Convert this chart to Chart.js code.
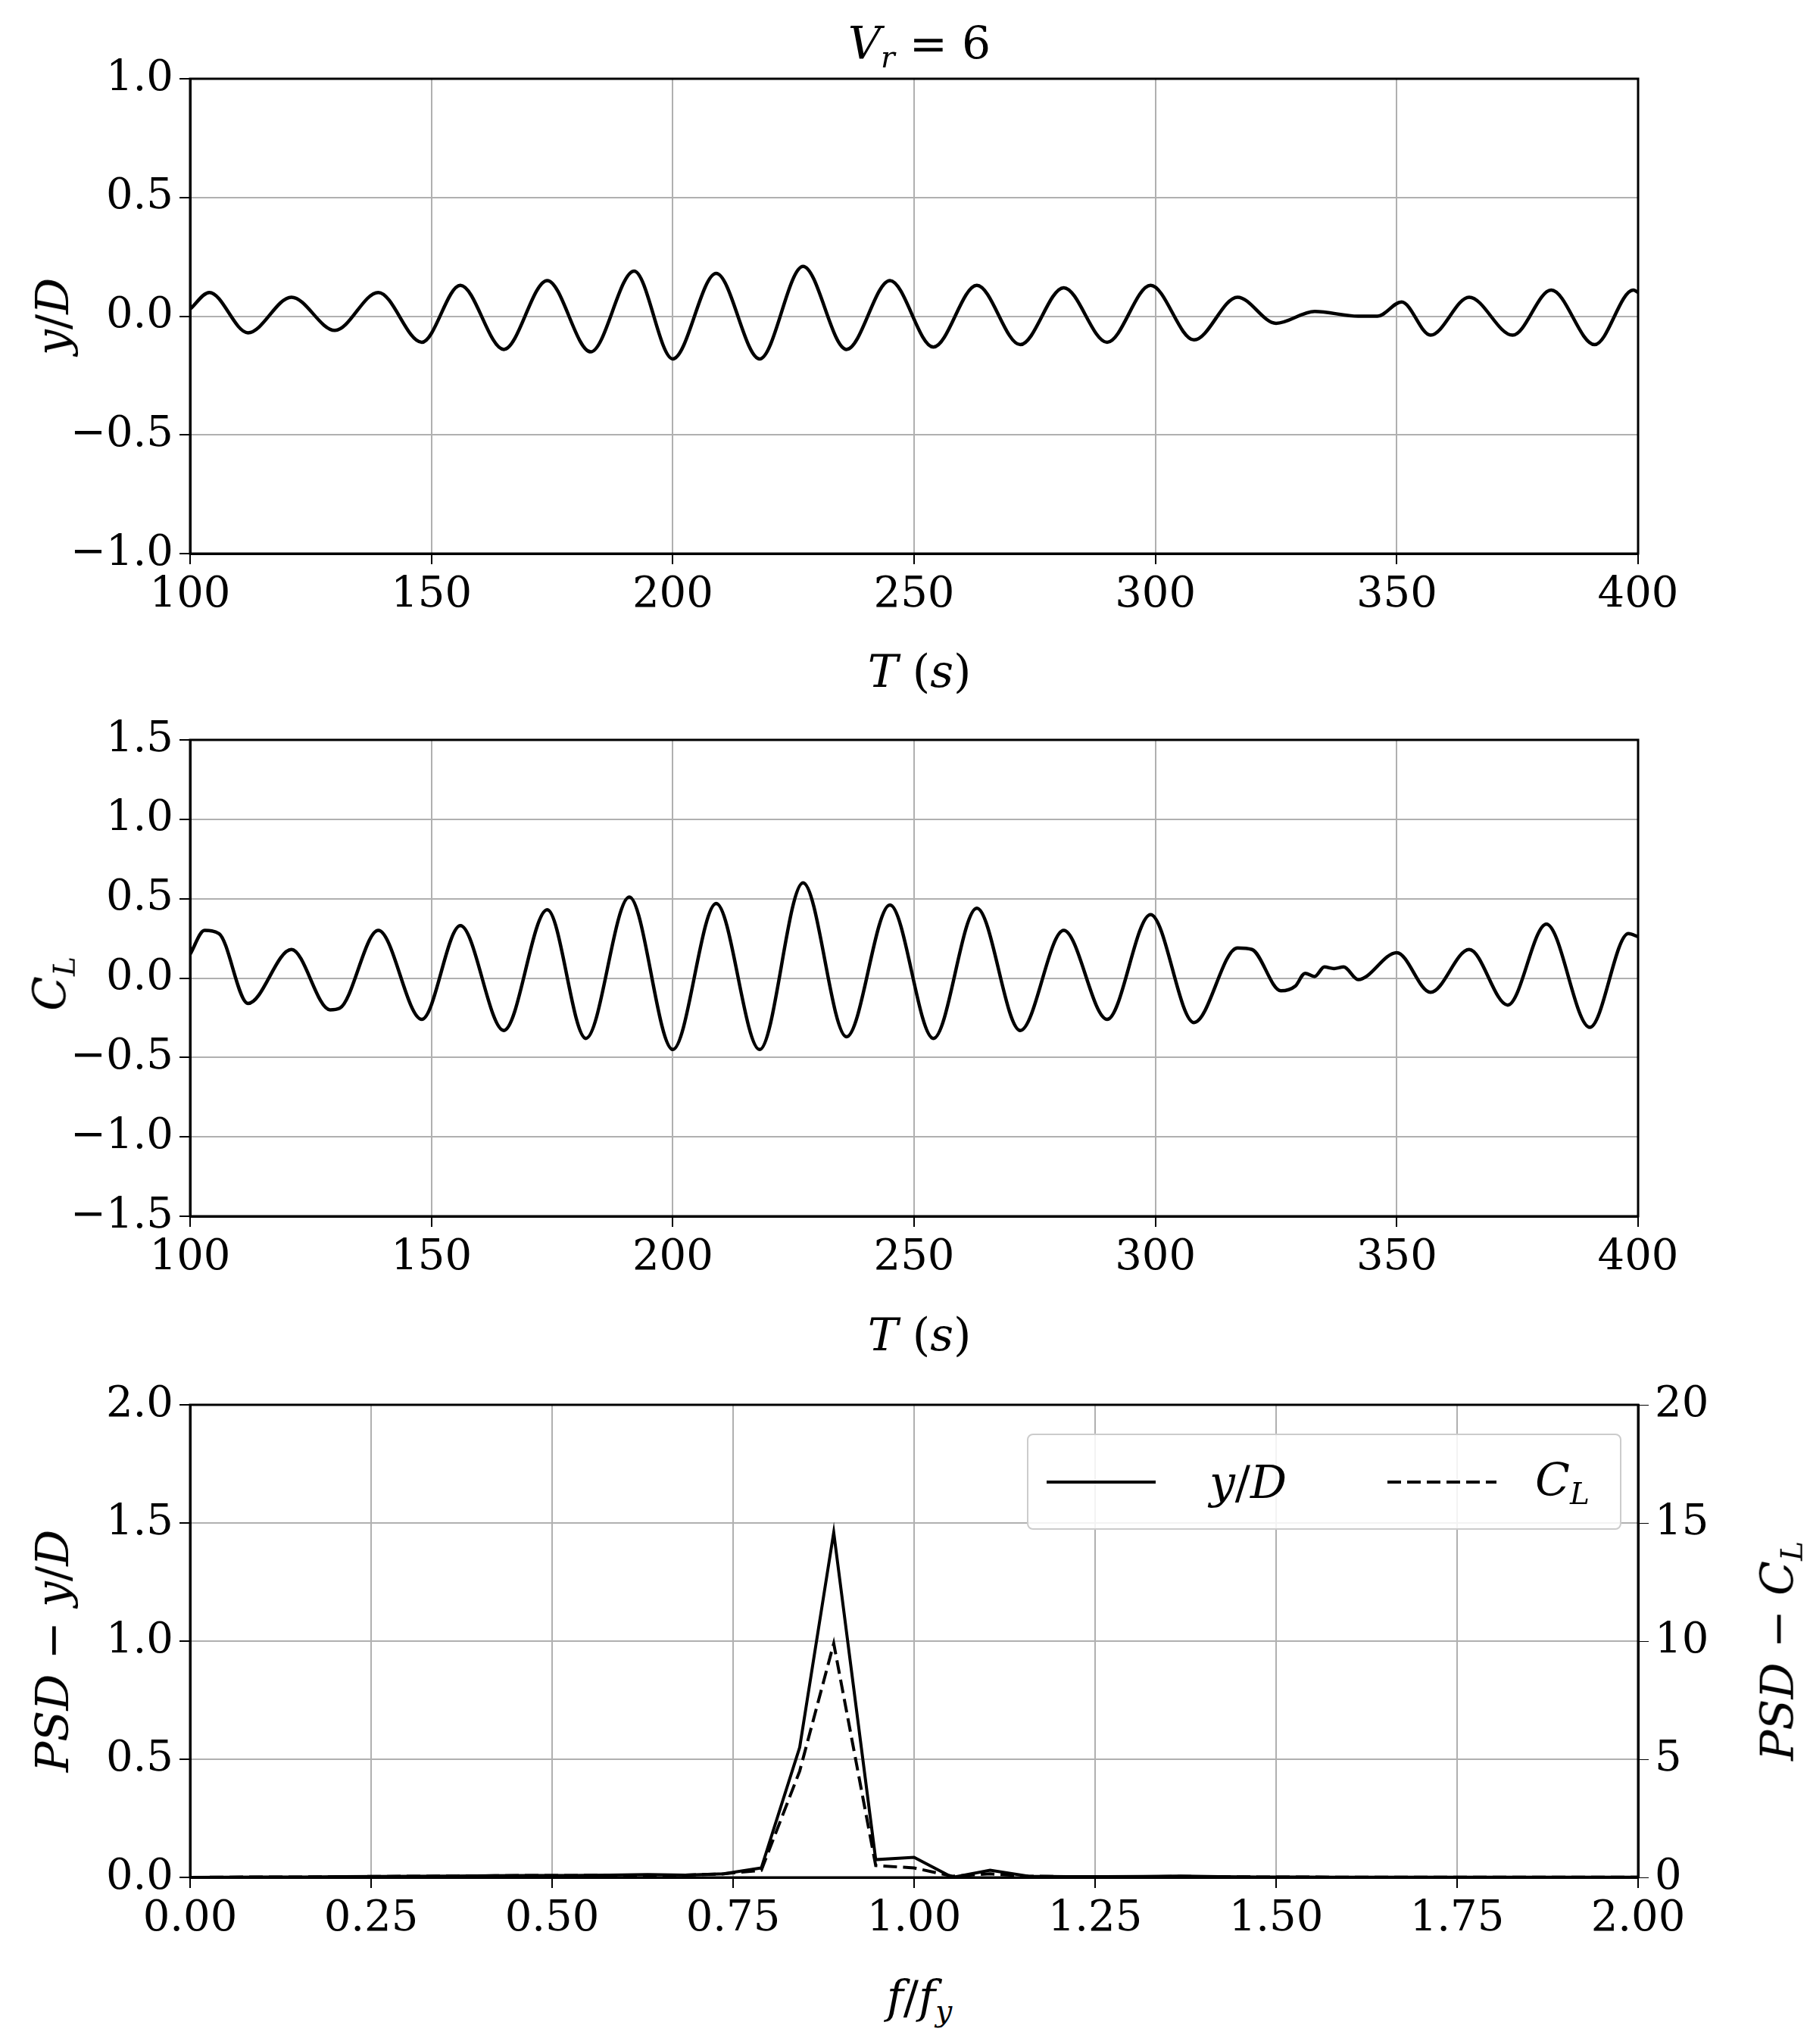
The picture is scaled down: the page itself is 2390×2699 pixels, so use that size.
<!DOCTYPE html>
<html><head><meta charset="utf-8">
<script src="https://cdn.jsdelivr.net/npm/chart.js@4/dist/chart.umd.min.js"></script>
<style>
body{margin:0;background:#fff;width:2390px;height:2699px;position:relative;overflow:hidden;font-family:"DejaVu Serif","Liberation Serif",serif;}
canvas{position:absolute;left:0;}
.t{position:absolute;font-size:60px;color:#000;white-space:nowrap;transform:translate(-50%,-50%);}
.r{transform:translate(-50%,-50%) rotate(-90deg);}
i{font-style:italic}
sub{font-size:0.65em;vertical-align:-0.3em}
#leg{position:absolute;left:1356px;top:1893px;width:781px;height:123px;border:2px solid #ccc;border-radius:8px;background:rgba(255,255,255,0.85);}
</style></head><body>
<canvas id="c1" width="2390" height="851" style="top:0"></canvas>
<canvas id="c2" width="2390" height="880" style="top:850px"></canvas>
<canvas id="c3" width="2390" height="849" style="top:1750px"></canvas>
<div class="t" style="left:1214px;top:60px"><i>V<sub>r</sub></i> = 6</div>
<div class="t r" style="left:69px;top:418px"><i>y</i>/<i>D</i></div>
<div class="t" style="left:1214px;top:886px"><i>T</i> (<i>s</i>)</div>
<div class="t r" style="left:69px;top:1299px"><i>C<sub>L</sub></i></div>
<div class="t" style="left:1214px;top:1762px"><i>T</i> (<i>s</i>)</div>
<div class="t r" style="left:69px;top:2180px"><i>PSD</i> − <i>y</i>/<i>D</i></div>
<div class="t r" style="left:2350px;top:2180px"><i>PSD</i> − <i>C<sub>L</sub></i></div>
<div class="t" style="left:1214px;top:2640px"><i>f</i>/<i>f<sub>y</sub></i></div>
<div id="leg">
<svg width="781" height="123" style="position:absolute;left:0;top:0">
<line x1="24" y1="62" x2="168" y2="62" stroke="#000" stroke-width="4"/>
<line x1="474" y1="62" x2="618" y2="62" stroke="#000" stroke-width="4" stroke-dasharray="18,8"/>
</svg>
<div class="t" style="left:290px;top:62px"><i>y</i>/<i>D</i></div>
<div class="t" style="left:705px;top:62px"><i>C<sub>L</sub></i></div>
</div>
<script>
const tY=[100,104,112,121,130,139,148,156,165,174,183,192,200,209,218,227,236,245,254,263,272,281,290,299,308,317,325,333,342,346,351,357,365,374,382,391,399,400];
const yD=[0.03,0.1,-0.07,0.08,-0.06,0.1,-0.11,0.13,-0.14,0.15,-0.15,0.19,-0.18,0.18,-0.18,0.21,-0.14,0.15,-0.13,0.13,-0.12,0.12,-0.11,0.13,-0.1,0.08,-0.03,0.02,0.0,0.0,0.06,-0.08,0.08,-0.08,0.11,-0.12,0.11,0.1];
const tC=[100,103,106,112,121,129,131,139,148,156,165,174,182,191,200,209,218,227,236,245,254,263,272,281,290,299,308,317,320,326,329,331,333,335,337,339,342,350,357,365,373,381,390,398,400];
const cL=[0.15,0.3,0.28,-0.16,0.18,-0.2,-0.19,0.3,-0.26,0.33,-0.33,0.43,-0.38,0.51,-0.45,0.47,-0.45,0.6,-0.37,0.46,-0.38,0.44,-0.33,0.3,-0.26,0.4,-0.28,0.19,0.18,-0.08,-0.05,0.03,0.01,0.07,0.06,0.07,-0.01,0.16,-0.09,0.18,-0.17,0.34,-0.31,0.28,0.26];
const freq=[0,0.053,0.105,0.158,0.211,0.263,0.316,0.368,0.421,0.474,0.526,0.579,0.632,0.684,0.737,0.789,0.842,0.889,0.947,1.0,1.053,1.105,1.158,1.211,1.263,1.316,1.368,1.421,1.474,1.526,1.579,1.632,1.684,1.737,1.789,1.842,1.895,1.947,2.0];
const psdY=[0,0.001,0.002,0.002,0.003,0.004,0.005,0.006,0.007,0.008,0.008,0.01,0.012,0.01,0.015,0.04,0.55,1.46,0.075,0.085,0.0,0.03,0.005,0.003,0.003,0.004,0.006,0.003,0.002,0.002,0.001,0.001,0.001,0.001,0.001,0.001,0.001,0.001,0.001];
const psdC=[0,0.01,0.02,0.02,0.03,0.04,0.05,0.06,0.07,0.08,0.08,0.1,0.1,0.1,0.15,0.3,4.5,9.9,0.5,0.4,0.05,0.15,0.05,0.03,0.03,0.03,0.04,0.03,0.02,0.02,0.01,0.01,0.01,0.01,0.01,0.01,0.01,0.01,0.01];

const F={family:"DejaVu Serif",size:56};
const minus=v=>String(v).replace('-','\u2212');
function xs(min,max,step,dec){return{type:'linear',min,max,
 ticks:{stepSize:step,font:F,color:'#000',padding:8,maxRotation:0,autoSkip:false,callback:v=>minus(v.toFixed(dec))},
 grid:{color:'#b0b0b0',lineWidth:2,tickLength:14,tickColor:'#000'},border:{color:'#000',width:3},
 afterFit:s=>{s.height=120;}};}
function ys(min,max,step,dec,w){return{type:'linear',min,max,
 ticks:{stepSize:step,font:F,color:'#000',padding:8,callback:v=>minus(v.toFixed(dec))},
 grid:{color:'#b0b0b0',lineWidth:2,tickLength:14,tickColor:'#000'},border:{color:'#000',width:3},
 afterFit:s=>{s.width=w;}};}
const frame={id:'frame',afterDraw(c){const a=c.chartArea,x=c.ctx;x.save();x.strokeStyle='#000';x.lineWidth=3;x.strokeRect(a.left,a.top,a.right-a.left,a.bottom-a.top);x.restore();}};
const base={responsive:false,animation:false,devicePixelRatio:1,
 plugins:{legend:{display:false},tooltip:{enabled:false}},elements:{point:{radius:0}}};
const pts=(xa,ya)=>xa.map((x,i)=>({x,y:ya[i]}));

new Chart(document.getElementById('c1'),{type:'line',plugins:[frame],
 data:{datasets:[{data:pts(tY,yD),borderColor:'#000',borderWidth:4.5,cubicInterpolationMode:'monotone'}]},
 options:{...base,layout:{padding:{top:104,right:227,left:0,bottom:0}},
  scales:{x:xs(100,400,50,0),y:ys(-1,1,0.5,1,251)}}});
new Chart(document.getElementById('c2'),{type:'line',plugins:[frame],
 data:{datasets:[{data:pts(tC,cL),borderColor:'#000',borderWidth:4.5,cubicInterpolationMode:'monotone'}]},
 options:{...base,layout:{padding:{top:127,right:227,left:0,bottom:4}},
  scales:{x:xs(100,400,50,0),y:ys(-1.5,1.5,0.5,1,251)}}});
const y1=ys(0,20,5,0,227);y1.position='right';y1.grid={drawOnChartArea:false,tickLength:14,tickColor:'#000'};
new Chart(document.getElementById('c3'),{type:'line',plugins:[frame],
 data:{datasets:[{data:pts(freq,psdY),borderColor:'#000',borderWidth:4,tension:0,yAxisID:'y'},
  {data:pts(freq,psdC),borderColor:'#000',borderWidth:4,borderDash:[18,8],tension:0,yAxisID:'y1'}]},
 options:{...base,layout:{padding:{top:105,right:0,left:0,bottom:0}},
  scales:{x:xs(0,2,0.25,2),y:ys(0,2,0.5,1,251),y1}}});
</script></body></html>
